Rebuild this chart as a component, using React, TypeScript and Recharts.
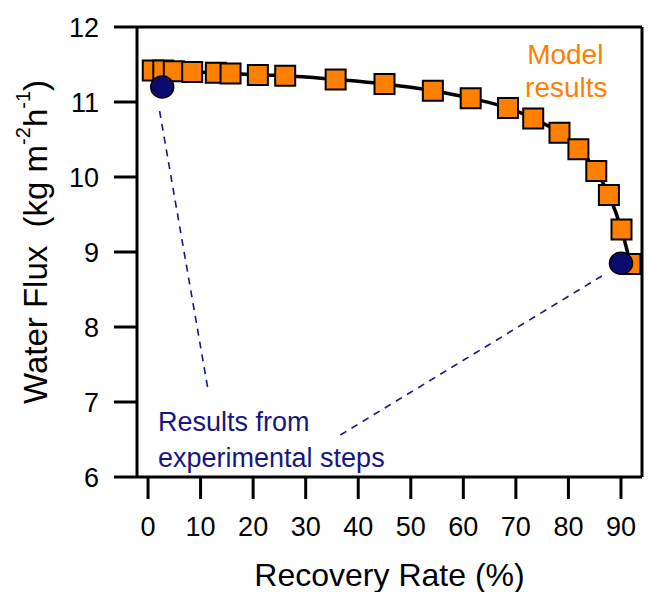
import React from 'react';
import { ComposedChart, Scatter, XAxis, YAxis, ReferenceLine, ReferenceDot } from 'recharts';

// Model results (orange squares)
const modelRecovery = [0.9, 2.9, 4.9, 8.4, 12.9, 15.7, 20.9, 26.1, 35.7, 45.0, 54.2, 61.4, 68.5, 73.3, 78.3, 81.9, 85.3, 87.7, 90.1, 91.8];
const modelFlux = [11.42, 11.42, 11.41, 11.40, 11.39, 11.38, 11.36, 11.35, 11.30, 11.24, 11.15, 11.05, 10.92, 10.78, 10.59, 10.37, 10.08, 9.76, 9.30, 8.84];

// Experimental steps (navy circles)
const expRecovery = [2.7, 90.0];
const expFlux = [11.2, 8.85];

const xTicks = [0, 10, 20, 30, 40, 50, 60, 70, 80, 90];
const yTicks = [6, 7, 8, 9, 10, 11, 12];
const xDomain = [-2.1, 94];
const yDomain = [6, 12];

// dashed leader lines (data coords)
const leaderStartX = [2.2, 36.6];
const leaderStartY = [10.88, 6.56];
const leaderEndX = [11.5, 86.6];
const leaderEndY = [7.13, 8.69];

// annotation texts
const modelLabels = ['Model', 'results'];
const modelLabelX = [79.4, 79.6];
const modelLabelY = [11.64, 11.2];
const expLabels = ['Results from', 'experimental steps'];
const expLabelX = [1.9, 1.9];
const expLabelY = [6.73, 6.25];

const modelData = modelRecovery.map((x, i) => ({ x, y: modelFlux[i] }));
const expData = expRecovery.map((x, i) => ({ x, y: expFlux[i] }));

const ORANGE = '#FF7F00';
const NAVY = '#0b0b6e';
const NAVY_TEXT = '#16167f';
const FONT = '"Liberation Sans", Arial, Helvetica, sans-serif';

const Square = (p: any) => (
  <rect x={p.cx - 10} y={p.cy - 10} width={20} height={20} fill={ORANGE} stroke="#000" strokeWidth={2} />
);
const Dot = (p: any) => (
  <ellipse cx={p.cx} cy={p.cy} rx={11.5} ry={11} fill={NAVY} stroke="#000" strokeWidth={1.5} />
);

const YTitle = (props: any) => {
  const vb = props.viewBox;
  const cx = vb.x + 35;
  const cy = vb.y + vb.height / 2 - 10;
  return (
    <text
      transform={`translate(${cx},${cy}) rotate(-90)`}
      textAnchor="middle"
      dominantBaseline="central"
      fontSize={33}
      fill="#000"
      fontFamily={FONT}
      style={{ whiteSpace: 'pre' }}
    >
      <tspan>{'Water Flux\u00a0\u00a0(kg m'}</tspan>
      <tspan fontSize={20} dy={-12}>{'-2'}</tspan>
      <tspan dy={12}>{'h'}</tspan>
      <tspan fontSize={20} dy={-12}>{'-1'}</tspan>
      <tspan dy={12}>{')'}</tspan>
    </text>
  );
};

const XTitle = (props: any) => {
  const vb = props.viewBox;
  return (
    <text
      x={vb.x + vb.width / 2}
      y={vb.y + 98}
      textAnchor="middle"
      dominantBaseline="central"
      fontSize={32}
      fill="#000"
      fontFamily={FONT}
    >
      Recovery Rate (%)
    </text>
  );
};

const makeLabel = (text: string, color: string, size: number, anchor: string) => (props: any) => {
  const vb = props.viewBox;
  return (
    <text
      x={vb.x}
      y={vb.y}
      textAnchor={anchor}
      dominantBaseline="central"
      fontSize={size}
      fill={color}
      fontFamily={FONT}
    >
      {text}
    </text>
  );
};

export default function App() {
  const axisStyle = { stroke: '#000', strokeWidth: 3 };
  return (
    <div style={{ position: 'absolute', left: 0, top: 0, fontFamily: FONT }}>
      <ComposedChart width={663} height={592} margin={{ top: 27, right: 0, bottom: 45, left: 0 }}>
        <XAxis
          type="number"
          dataKey="x"
          domain={xDomain}
          ticks={xTicks}
          allowDataOverflow
          height={70}
          tickSize={22}
          tickMargin={18}
          axisLine={axisStyle}
          tickLine={axisStyle}
          tick={{ fill: '#000', fontSize: 27, fontFamily: FONT }}
          label={<XTitle />}
        />
        <YAxis
          yAxisId="left"
          type="number"
          dataKey="y"
          domain={yDomain}
          ticks={yTicks}
          allowDataOverflow
          width={137}
          tickSize={23}
          tickMargin={15}
          axisLine={axisStyle}
          tickLine={axisStyle}
          tick={{ fill: '#000', fontSize: 27, fontFamily: FONT }}
          label={<YTitle />}
        />
        <YAxis
          yAxisId="right"
          orientation="right"
          type="number"
          domain={yDomain}
          ticks={yTicks}
          allowDataOverflow
          width={21}
          tickSize={21}
          axisLine={axisStyle}
          tickLine={axisStyle}
          tick={false}
        />
        <ReferenceLine yAxisId="left" y={12} stroke="#000" strokeWidth={3} />
        {leaderStartX.map((sx, i) => (
          <ReferenceLine
            key={'l' + i}
            yAxisId="left"
            segment={[{ x: sx, y: leaderStartY[i] }, { x: leaderEndX[i], y: leaderEndY[i] }]}
            stroke={NAVY_TEXT}
            strokeWidth={1.6}
            strokeDasharray="7 6"
            ifOverflow="visible"
          />
        ))}
        <Scatter
          yAxisId="left"
          data={modelData}
          dataKey="y"
          shape={Square}
          line={{ stroke: '#000', strokeWidth: 3.5 }}
          lineType="joint"
          lineJointType="monotoneX"
          isAnimationActive={false}
        />
        <Scatter
          yAxisId="left"
          data={expData}
          dataKey="y"
          shape={Dot}
          isAnimationActive={false}
        />
        {modelLabels.map((t, i) => (
          <ReferenceDot
            key={'m' + i}
            yAxisId="left"
            x={modelLabelX[i]}
            y={modelLabelY[i]}
            r={0}
            fill="none"
            stroke="none"
            ifOverflow="visible"
            label={makeLabel(t, ORANGE, 28, 'middle')}
          />
        ))}
        {expLabels.map((t, i) => (
          <ReferenceDot
            key={'e' + i}
            yAxisId="left"
            x={expLabelX[i]}
            y={expLabelY[i]}
            r={0}
            fill="none"
            stroke="none"
            ifOverflow="visible"
            label={makeLabel(t, NAVY_TEXT, 27, 'start')}
          />
        ))}
      </ComposedChart>
    </div>
  );
}
